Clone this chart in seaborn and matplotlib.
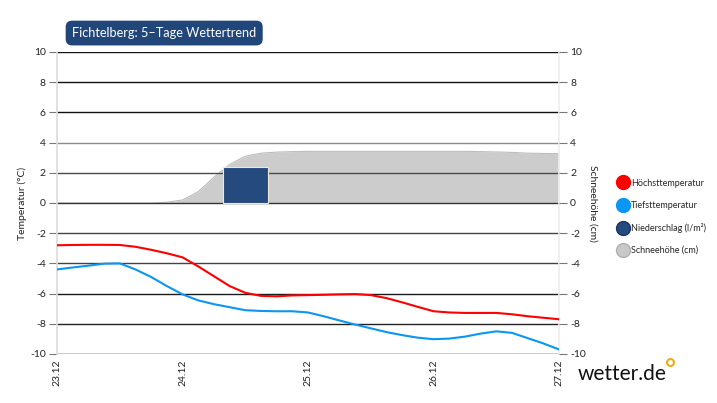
import numpy as np
import pandas as pd
import seaborn as sns
from matplotlib import pyplot as plt
from matplotlib.lines import Line2D

# Stunden ab 23.12 00:00, alle 3 Stunden
hours = list(range(0, 97, 3))

hoechst = [-2.8, -2.78, -2.77, -2.77, -2.78, -2.9, -3.1, -3.33, -3.6, -4.2, -4.85,
           -5.5, -5.95, -6.15, -6.18, -6.12, -6.1, -6.08, -6.05, -6.03, -6.1, -6.3,
           -6.58, -6.88, -7.17, -7.25, -7.28, -7.28, -7.28, -7.37, -7.5, -7.6, -7.7]

tiefst = [-4.4, -4.27, -4.15, -4.02, -4.0, -4.4, -4.9, -5.5, -6.05, -6.45, -6.7,
          -6.9, -7.1, -7.15, -7.17, -7.17, -7.25, -7.5, -7.78, -8.05, -8.3, -8.55,
          -8.75, -8.92, -9.02, -8.98, -8.85, -8.65, -8.5, -8.6, -8.95, -9.3, -9.7]

schnee = [0, 0, 0, 0, 0, 0, 0, 0.05, 0.2, 0.75, 1.7, 2.55, 3.1, 3.3, 3.37, 3.4,
          3.42, 3.42, 3.42, 3.42, 3.42, 3.42, 3.42, 3.42, 3.42, 3.42, 3.42, 3.4,
          3.38, 3.35, 3.3, 3.28, 3.27]

nieder_stunde = [36]
nieder_wert = [2.4]

tage = ['23.12', '24.12', '25.12', '26.12', '27.12']
tage_stunde = [0, 24, 48, 72, 96]
y_ticks = [-10, -8, -6, -4, -2, 0, 2, 4, 6, 8, 10]

df = pd.DataFrame({'Stunde': hours, 'Hoch': hoechst, 'Tief': tiefst, 'Schnee': schnee})

sns.set_theme(style='white')
plt.rcParams['font.family'] = ['Lato', 'DejaVu Sans']

fig = plt.figure(figsize=(7.17, 4.03), dpi=100)
ax = fig.add_axes([0.0795, 0.1216, 0.7002, 0.7494])

# Schneehöhe als Fläche
ax.fill_between(df['Stunde'], 0, df['Schnee'], color='#cccccc', lw=0, zorder=1)
sns.lineplot(data=df, x='Stunde', y='Schnee', color='#bdbdbd', lw=0.8, ax=ax, zorder=1)

# Gitterlinien
grid_cols = {10: '#111111', 8: '#111111', 6: '#111111', 4: '#8a8a8a', 2: '#4a4a4a',
             0: '#333333', -2: '#444444', -4: '#444444', -6: '#1a1a1a', -8: '#222222'}
for v, c in grid_cols.items():
    ax.axhline(v, color=c, lw=1, zorder=2)
ax.axhline(-10, color='#bbbbbb', lw=1.8, zorder=2)

# Niederschlag
ax.bar(nieder_stunde, nieder_wert, width=8.6, color='#244a7e', edgecolor='#efe8d0',
       lw=0.8, zorder=3)

sns.lineplot(data=df, x='Stunde', y='Hoch', color='#ff0000', lw=1.5, ax=ax, zorder=4)
sns.lineplot(data=df, x='Stunde', y='Tief', color='#0a96f2', lw=1.5, ax=ax, zorder=4)

ax.set_xlim(0, 96)
ax.set_ylim(-10, 10)
ax.set_yticks(y_ticks)
ax.set_yticklabels([str(t) for t in y_ticks], fontsize=7.5, color='#222222')
ax.set_xticks(tage_stunde)
ax.set_xticklabels(tage, rotation=90, fontsize=7.5, color='#222222')
ax.tick_params(axis='y', length=6, width=0.8, color='#777777', pad=2, left=True)
ax.tick_params(axis='x', length=0, pad=4)
ax.set_xlabel('')
ax.set_ylabel('Temperatur (°C)', fontsize=7.5, color='#222222', labelpad=2)
for s in ['top', 'bottom']:
    ax.spines[s].set_visible(False)
ax.spines['left'].set_color('#dddddd')
ax.spines['right'].set_color('#eeeeee')

ax2 = ax.twinx()
ax2.set_ylim(-10, 10)
ax2.set_yticks(y_ticks)
ax2.set_yticklabels([str(t) for t in y_ticks], fontsize=7.5, color='#222222')
ax2.tick_params(axis='y', length=6, width=0.8, color='#777777', pad=2, right=True)
ax2.set_ylabel('Schneehöhe (cm)', fontsize=7.5, color='#222222', rotation=270, labelpad=8)
for s in ax2.spines.values():
    s.set_visible(False)

# Titel
fig.text(0.1005, 0.918, 'Fichtelberg: 5–Tage Wettertrend', color='white', fontsize=9.2,
         va='center', ha='left',
         bbox=dict(boxstyle='round,pad=0.5,rounding_size=0.5', fc='#214679', ec='none'))

# Legende
handles = [
    Line2D([], [], marker='o', ls='', ms=10, mfc='#ff0000', mec='#ff0000'),
    Line2D([], [], marker='o', ls='', ms=10, mfc='#0a96f2', mec='#0a96f2'),
    Line2D([], [], marker='o', ls='', ms=10, mfc='#244a7e', mec='#1a3560'),
    Line2D([], [], marker='o', ls='', ms=10, mfc='#c8c8c8', mec='#b0b0b0'),
]
labels = ['Höchsttemperatur', 'Tiefsttemperatur', 'Niederschlag (l/m²)', 'Schneehöhe (cm)']
fig.legend(handles, labels, loc='upper left', bbox_to_anchor=(0.8544, 0.568), frameon=False,
           fontsize=6.5, labelspacing=1.45, handletextpad=0.3, handlelength=1.2,
           borderpad=0)

# Logo
fig.text(0.806, 0.072, 'wetter.de', fontsize=15, color='#111111', ha='left', va='center')
fig.add_artist(Line2D([0.9344], [0.1017], transform=fig.transFigure, marker='o', ms=5,
                      mfc='none', mec='#f5a800', mew=1.4, ls=''))

fig.savefig('out.png', dpi=100)
